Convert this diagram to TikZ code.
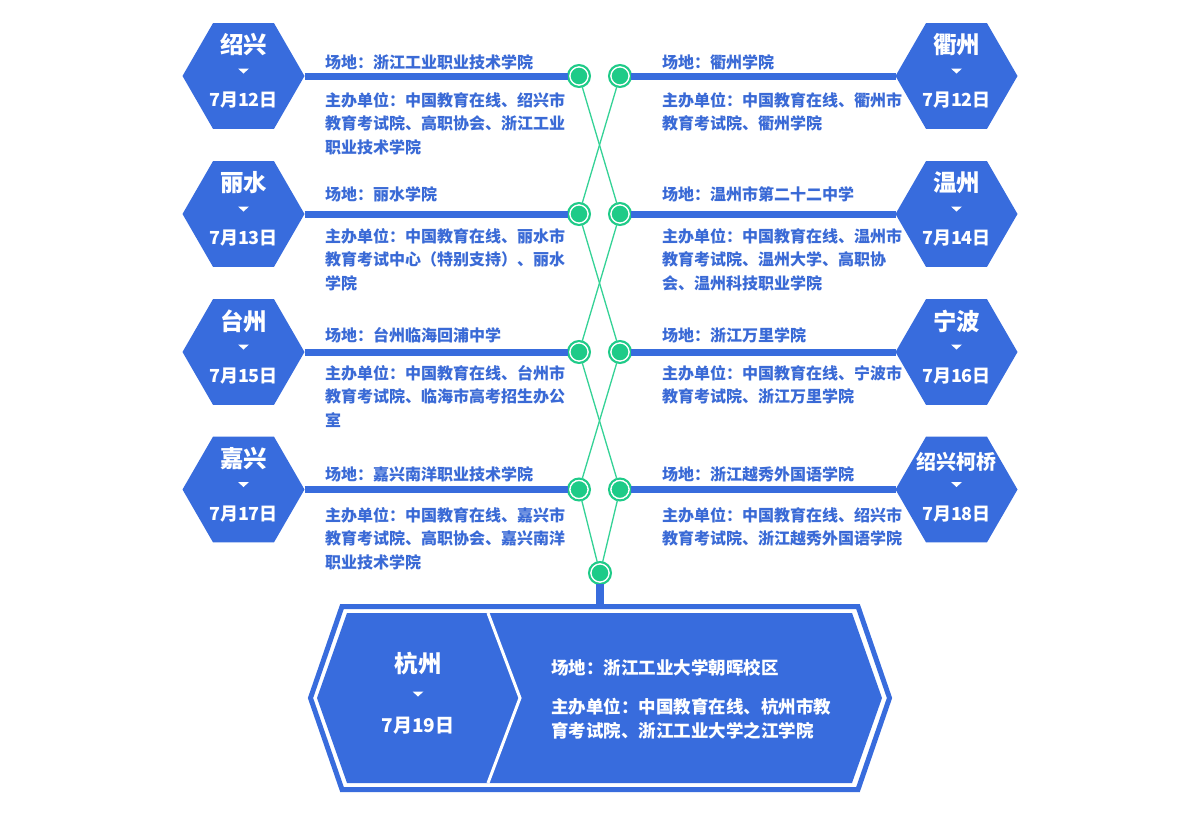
\documentclass[tikz,border=0pt]{standalone}
\usepackage{fontspec}
\setmainfont{Noto Sans CJK SC}
\usetikzlibrary{shapes.geometric}
\definecolor{mblue}{RGB}{56,108,221}
\definecolor{tblue}{RGB}{58,106,214}
\definecolor{gfill}{RGB}{30,203,136}
\definecolor{gline}{RGB}{52,210,150}
\begin{document}
\begin{tikzpicture}[x=1pt,y=-1pt,
  hexa/.style={regular polygon, regular polygon sides=6, minimum size=122pt, inner sep=0pt, outer sep=0pt, fill=mblue},
  city/.style={text=white, font=\bfseries\fontsize{23.5}{28}\selectfont, inner sep=0pt},
  citys/.style={city, font=\bfseries\fontsize{20}{24}\selectfont},
  date/.style={text=white, font=\bfseries\fontsize{18}{22}\selectfont, inner sep=0pt},
  desc/.style={text=tblue, font=\bfseries\fontsize{16}{20}\selectfont, anchor=west, inner sep=0pt},
  wdesc/.style={text=white, font=\bfseries\fontsize{17.5}{21}\selectfont, anchor=west, inner sep=0pt},
  dot/.style={circle, minimum size=22pt, inner sep=0pt, outer sep=0pt, fill=gfill, draw=gfill, line width=2pt,
    path picture={\draw[white, line width=1.6pt] (path picture bounding box.center) circle (9.2pt);}},
  bar/.style={line width=7pt, mblue},
  gl/.style={line width=1.3pt, gline},
  tri/.pic={\fill[white] (-5.5,-2.5) -- (5.5,-2.5) -- (0,2.5) -- cycle;}
]
\useasboundingbox (0,0) rectangle (1200,833);
\fill[white] (0,0) rectangle (1200,833);

% ---------- left column ----------
\node[hexa] (hL1) at (243.5,76) {};
\node[city] (cL1) at (243.5,45) {绍兴};
\pic at (243.5,71) {tri};
\node[date] (dL1) at (243.5,100.5) {7月12日};
\node[desc] (sL1) at (325,62) {场地：浙江工业职业技术学院};
\node[desc] (oL1a) at (325,100) {主办单位：中国教育在线、绍兴市};
\node[desc] (oL1b) at (325,123.5) {教育考试院、高职协会、浙江工业};
\node[desc] (oL1c) at (325,147) {职业技术学院};

\node[hexa] (hL2) at (243.5,214) {};
\node[city] (cL2) at (243.5,183) {丽水};
\pic at (243.5,209) {tri};
\node[date] (dL2) at (243.5,238.5) {7月13日};
\node[desc] (sL2) at (325,194) {场地：丽水学院};
\node[desc] (oL2a) at (325,236) {主办单位：中国教育在线、丽水市};
\node[desc] (oL2b) at (325,259.5) {教育考试中心（特别支持）、丽水};
\node[desc] (oL2c) at (325,283) {学院};

\node[hexa] (hL3) at (243.5,352) {};
\node[city] (cL3) at (243.5,321) {台州};
\pic at (243.5,347) {tri};
\node[date] (dL3) at (243.5,376.5) {7月15日};
\node[desc] (sL3) at (325,335) {场地：台州临海回浦中学};
\node[desc] (oL3a) at (325,373) {主办单位：中国教育在线、台州市};
\node[desc] (oL3b) at (325,396.5) {教育考试院、临海市高考招生办公};
\node[desc] (oL3c) at (325,420) {室};

\node[hexa] (hL4) at (243.5,489.5) {};
\node[city] (cL4) at (243.5,458.5) {嘉兴};
\pic at (243.5,484.5) {tri};
\node[date] (dL4) at (243.5,514) {7月17日};
\node[desc] (sL4) at (325,474.5) {场地：嘉兴南洋职业技术学院};
\node[desc] (oL4a) at (325,515) {主办单位：中国教育在线、嘉兴市};
\node[desc] (oL4b) at (325,538.5) {教育考试院、高职协会、嘉兴南洋};
\node[desc] (oL4c) at (325,562) {职业技术学院};

% ---------- right column ----------
\node[hexa] (hR1) at (956.5,76) {};
\node[city] (cR1) at (956.5,45) {衢州};
\pic at (956.5,71) {tri};
\node[date] (dR1) at (956.5,100.5) {7月12日};
\node[desc] (sR1) at (662,62) {场地：衢州学院};
\node[desc] (oR1a) at (662,100) {主办单位：中国教育在线、衢州市};
\node[desc] (oR1b) at (662,123.5) {教育考试院、衢州学院};

\node[hexa] (hR2) at (956.5,214) {};
\node[city] (cR2) at (956.5,183) {温州};
\pic at (956.5,209) {tri};
\node[date] (dR2) at (956.5,238.5) {7月14日};
\node[desc] (sR2) at (662,194) {场地：温州市第二十二中学};
\node[desc] (oR2a) at (662,236) {主办单位：中国教育在线、温州市};
\node[desc] (oR2b) at (662,259.5) {教育考试院、温州大学、高职协};
\node[desc] (oR2c) at (662,283) {会、温州科技职业学院};

\node[hexa] (hR3) at (956.5,352) {};
\node[city] (cR3) at (956.5,321) {宁波};
\pic at (956.5,347) {tri};
\node[date] (dR3) at (956.5,376.5) {7月16日};
\node[desc] (sR3) at (662,335) {场地：浙江万里学院};
\node[desc] (oR3a) at (662,373) {主办单位：中国教育在线、宁波市};
\node[desc] (oR3b) at (662,396.5) {教育考试院、浙江万里学院};

\node[hexa] (hR4) at (956.5,489.5) {};
\node[citys] (cR4) at (956.5,462) {绍兴柯桥};
\pic at (956.5,484.5) {tri};
\node[date] (dR4) at (956.5,514) {7月18日};
\node[desc] (sR4) at (662,474.5) {场地：浙江越秀外国语学院};
\node[desc] (oR4a) at (662,515) {主办单位：中国教育在线、绍兴市};
\node[desc] (oR4b) at (662,538.5) {教育考试院、浙江越秀外国语学院};

% ---------- dots ----------
\node[dot] (L1) at (579,76) {};
\node[dot] (R1) at (620,76) {};
\node[dot] (L2) at (579,214) {};
\node[dot] (R2) at (620,214) {};
\node[dot] (L3) at (579,352) {};
\node[dot] (R3) at (620,352) {};
\node[dot] (L4) at (579,489.5) {};
\node[dot] (R4) at (620,489.5) {};
\node[dot] (B) at (600,573) {};

% ---------- bars ----------
\draw[bar] (hL1.east) -- (L1);
\draw[bar] (hL2.east) -- (L2);
\draw[bar] (hL3.east) -- (L3);
\draw[bar] (hL4.east) -- (L4);
\draw[bar] (R1) -- (hR1.west);
\draw[bar] (R2) -- (hR2.west);
\draw[bar] (R3) -- (hR3.west);
\draw[bar] (R4) -- (hR4.west);

% ---------- green zigzag ----------
\draw[gl] (L1) -- (R2);
\draw[gl] (R1) -- (L2);
\draw[gl] (L2) -- (R3);
\draw[gl] (R2) -- (L3);
\draw[gl] (L3) -- (R4);
\draw[gl] (R3) -- (L4);
\draw[gl] (L4) -- (B);
\draw[gl] (R4) -- (B);

% ---------- bottom box ----------
\coordinate (boxtop) at (600,604);
\draw[bar, line width=8pt] (B) -- (boxtop);
\draw[mblue, line width=5pt, line join=miter]
  (342,606.5) -- (858,606.5) -- (889.5,698) -- (858,789.5) -- (342,789.5) -- (310.5,698) -- cycle;
\fill[mblue] (347,613) -- (852,613) -- (882,698) -- (852,783) -- (347,783) -- (317,698) -- cycle;
\draw[white, line width=3pt] (488,613) -- (520,698) -- (488,783);
\node[city] (cH) at (418,664) {杭州};
\pic at (418,694) {tri};
\node[date, font=\bfseries\fontsize{19}{22}\selectfont] (dH) at (418,726) {7月19日};
\node[wdesc] (sH) at (551,668) {场地：浙江工业大学朝晖校区};
\node[wdesc] (oHa) at (551,707) {主办单位：中国教育在线、杭州市教};
\node[wdesc] (oHb) at (551,731) {育考试院、浙江工业大学之江学院};
\end{tikzpicture}
\end{document}
